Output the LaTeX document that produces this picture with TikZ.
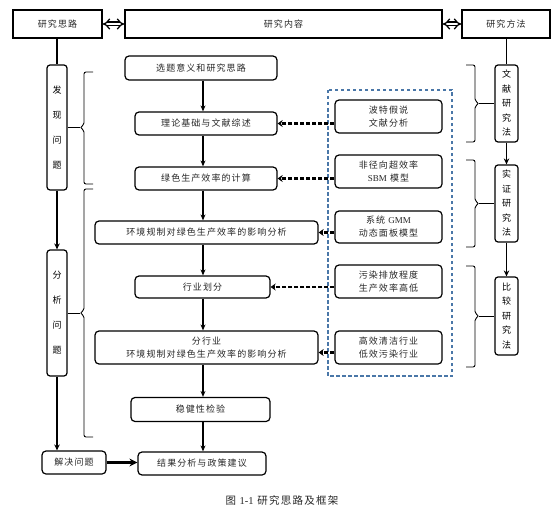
\documentclass[tikz,border=0pt]{standalone}
\usepackage{fontspec}
\setmainfont{Liberation Serif}
\newfontfamily\cjk[LetterSpace=12]{Noto Sans CJK SC}
\usetikzlibrary{arrows.meta,calc}
\begin{document}
\begin{tikzpicture}[x=1pt,y=-1pt,
  txt/.style={font=\cjk\fontsize{9}{13}\selectfont, text=black!85},
  sqbox/.style={draw, line width=1.2pt, txt, inner sep=0pt},
  rbox/.style={draw, line width=1.2pt, rounded corners=4pt, txt, inner sep=0pt, align=center},
  vbox/.style={draw, line width=1.2pt, rounded corners=3pt, inner sep=0pt, align=center},
  arr/.style={-{Stealth[length=6pt,width=5pt]}, line width=1.1pt},
  colarr/.style={-{Stealth[length=6pt,width=5.5pt]}, line width=1.8pt},
  darr/.style={-{Stealth[length=5pt,width=7pt]}, line width=2.4pt, dash pattern=on 4pt off 2pt},
  brc/.style={line width=0.9pt, rounded corners=2pt},
  dbl/.style={double distance=2.4pt, line width=1.3pt, {Implies[]}-{Implies[]}},
]
\useasboundingbox (0,0) rectangle (560,511);

% top row
\node[sqbox, minimum width=89pt, minimum height=28pt] (t1) at (57.5,24) {研究思路};
\node[sqbox, minimum width=317pt, minimum height=28pt] (t2) at (283.5,24) {研究内容};
\node[sqbox, minimum width=88pt, minimum height=28pt] (t3) at (506,24) {研究方法};
\draw[dbl] (t1.east) -- (t2.west);
\draw[dbl] (t2.east) -- (t3.west);

% left column
\node[vbox, minimum width=20pt, minimum height=125pt, font=\cjk\fontsize{9}{25}\selectfont] (fx) at (57,127.5) {发\\现\\问\\题};
\node[vbox, minimum width=20pt, minimum height=126pt, font=\cjk\fontsize{9}{25}\selectfont] (fa) at (57,313) {分\\析\\问\\题};
\node[rbox, minimum width=64pt, minimum height=23pt] (js) at (74,462.5) {解决问题};
\draw[line width=1.8pt] (t1.south -| fx.north) -- (fx.north);
\draw[colarr] (fx.south) -- (fa.north);
\draw[colarr] (fa.south) -- (js.north -| fa.south);

% left braces
\draw[brc] (93,72) -- (84,72) -- (84,125) -- (80,127.5) -- (84,130) -- (84,184) -- (93,184);
\coordinate (lb1t) at (80,127.5);
\draw[line width=0.9pt] (fx.east) -- (lb1t);
\draw[brc] (93,189) -- (84,189) -- (84,310.5) -- (80,313) -- (84,315.5) -- (84,437) -- (93,437);
\coordinate (lb2t) at (80,313);
\draw[line width=0.9pt] (fa.east) -- (lb2t);

% middle column
\coordinate (sp) at (203,0);
\node[rbox, minimum width=152pt, minimum height=24pt] (m1) at (201,68) {选题意义和研究思路};
\node[rbox, minimum width=142pt, minimum height=23pt] (m2) at (206,123.5) {理论基础与文献综述};
\node[rbox, minimum width=142pt, minimum height=23pt] (m3) at (206,178.5) {绿色生产效率的计算};
\node[rbox, minimum width=223pt, minimum height=23pt] (m4) at (206.5,232.5) {环境规制对绿色生产效率的影响分析};
\node[rbox, minimum width=135pt, minimum height=22pt] (m5) at (202.5,287) {行业划分};
\node[rbox, minimum width=223pt, minimum height=33pt] (m6) at (206.5,347.5) {分行业\\环境规制对绿色生产效率的影响分析};
\node[rbox, minimum width=139pt, minimum height=24pt] (m7) at (200.5,409.5) {稳健性检验};
\node[rbox, minimum width=128pt, minimum height=23pt] (m8) at (202,463.5) {结果分析与政策建议};
\foreach \a/\b in {m1/m2,m2/m3,m3/m4,m4/m5,m5/m6,m6/m7,m7/m8}{
  \draw[arr] (\a.south -| sp) -- (\b.north -| sp);
}
\draw[-{Stealth[length=8pt,width=8pt]}, line width=3pt] (js.east) -- (m8.west |- js.east);

% dashed frame and method boxes
\draw[draw={rgb,255:red,74;green,119;blue,168}, line width=1.3pt, dash pattern=on 3.5pt off 2.5pt] (328,90) rectangle (452,376);
\node[rbox, minimum width=107pt, minimum height=33pt] (r1) at (388.5,116.5) {波特假说\\文献分析};
\node[rbox, minimum width=107pt, minimum height=33pt] (r2) at (388.5,171.5) {非径向超效率\\{\rmfamily SBM} 模型};
\node[rbox, minimum width=107pt, minimum height=32pt] (r3) at (388.5,227) {系统 {\rmfamily GMM}\\动态面板模型};
\node[rbox, minimum width=107pt, minimum height=33pt] (r4) at (388.5,281.5) {污染排放程度\\生产效率高低};
\node[rbox, minimum width=107pt, minimum height=33pt] (r5) at (388.5,347.5) {高效清洁行业\\低效污染行业};
\draw[darr] (m2.east -| r1.west) -- (m2.east);
\draw[darr] (m3.east -| r2.west) -- (m3.east);
\draw[darr] (m4.east -| r3.west) -- (m4.east);
\draw[darr] (m5.east -| r4.west) -- (m5.east);
\draw[darr] ([yshift=-5pt]m6.east -| r5.west) -- ([yshift=-5pt]m6.east);

% right column
\node[vbox, minimum width=23pt, minimum height=77pt, font=\cjk\fontsize{9}{14.5}\selectfont] (v1) at (506.5,103.5) {文\\献\\研\\究\\法};
\node[vbox, minimum width=23pt, minimum height=77pt, font=\cjk\fontsize{9}{14.5}\selectfont] (v2) at (506.5,203.5) {实\\证\\研\\究\\法};
\node[vbox, minimum width=23pt, minimum height=78pt, font=\cjk\fontsize{9}{14.5}\selectfont] (v3) at (506.5,316) {比\\较\\研\\究\\法};
\draw[line width=1.8pt] (t3.south -| v1.north) -- (v1.north);
\draw[colarr] (v1.south) -- (v2.north);
\draw[colarr] (v2.south) -- (v3.north);

% right braces
\draw[brc] (466,65) -- (475,65) -- (475,101) -- (479,103.5) -- (475,106) -- (475,142) -- (466,142);
\coordinate (rb1t) at (479,103.5);
\draw[line width=0.9pt] (rb1t) -- (v1.west);
\draw[brc] (466,160) -- (475,160) -- (475,201) -- (479,203.5) -- (475,206) -- (475,247) -- (466,247);
\coordinate (rb2t) at (479,203.5);
\draw[line width=0.9pt] (rb2t) -- (v2.west);
\draw[brc] (466,266) -- (475,266) -- (475,313.5) -- (479,316) -- (475,318.5) -- (475,367) -- (466,367);
\coordinate (rb3t) at (479,316);
\draw[line width=0.9pt] (rb3t) -- (v3.west);

% caption
\node[font=\cjk\fontsize{10.5}{12}\selectfont, text=black!85] (cap) at (282,500) {图 {\rmfamily 1-1} 研究思路及框架};
\end{tikzpicture}
\end{document}
